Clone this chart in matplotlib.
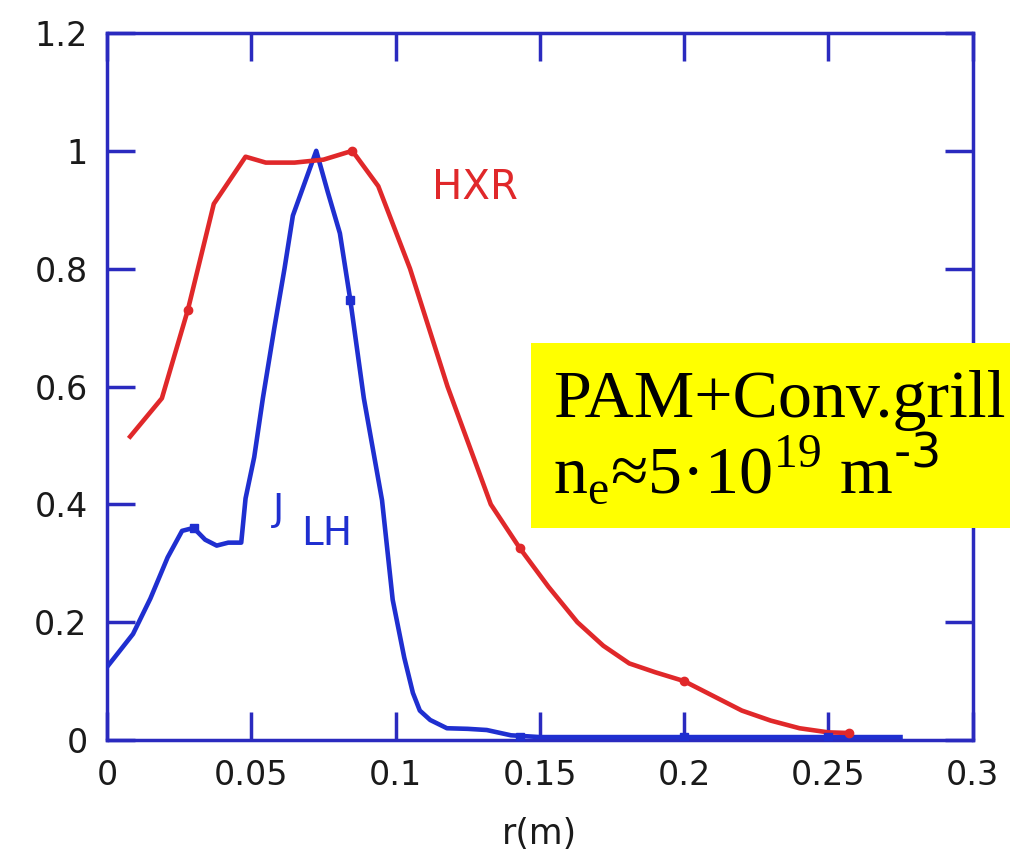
import matplotlib
matplotlib.use('Agg')
import matplotlib.pyplot as plt
from matplotlib.patches import Rectangle


# HXR profile (red)
hxr_r = [0.008, 0.019, 0.028, 0.037, 0.048, 0.055, 0.065, 0.075, 0.085, 0.094,
         0.105, 0.118, 0.133, 0.143, 0.153, 0.163, 0.172, 0.181, 0.190, 0.200,
         0.210, 0.220, 0.230, 0.240, 0.250, 0.257]
hxr_v = [0.515, 0.58, 0.73, 0.91, 0.99, 0.98, 0.98, 0.985, 1.0, 0.94,
         0.80, 0.60, 0.40, 0.326, 0.26, 0.20, 0.16, 0.13, 0.115, 0.10,
         0.075, 0.05, 0.033, 0.02, 0.013, 0.012]
hxr_mark_r = [0.028, 0.085, 0.143, 0.200, 0.257]
hxr_mark_v = [0.73, 1.0, 0.326, 0.10, 0.012]

# J_LH profile (blue)
jlh_r = [0.0, 0.009, 0.015, 0.021, 0.026, 0.030, 0.034, 0.038, 0.042, 0.0465,
         0.048, 0.051, 0.054, 0.058, 0.0615, 0.0644, 0.0725, 0.0765, 0.0807, 0.0843,
         0.089, 0.0953, 0.099, 0.103, 0.106, 0.1084, 0.112, 0.1178, 0.125, 0.1316,
         0.140, 0.150, 0.200, 0.250, 0.275]
jlh_v = [0.124, 0.18, 0.24, 0.31, 0.355, 0.36, 0.34, 0.33, 0.335, 0.335,
         0.41, 0.48, 0.58, 0.70, 0.80, 0.89, 1.0, 0.93, 0.86, 0.747,
         0.58, 0.407, 0.238, 0.14, 0.08, 0.05, 0.034, 0.02, 0.019, 0.017,
         0.008, 0.005, 0.005, 0.005, 0.005]
jlh_mark_r = [0.030, 0.0843, 0.143, 0.200, 0.250]
jlh_mark_v = [0.36, 0.747, 0.005, 0.005, 0.005]

xticks = [0, 0.05, 0.1, 0.15, 0.2, 0.25, 0.3]
xtick_labels = ['0', '0.05', '0.1', '0.15', '0.2', '0.25', '0.3']
yticks = [0, 0.2, 0.4, 0.6, 0.8, 1.0, 1.2]
ytick_labels = ['0', '0.2', '0.4', '0.6', '0.8', '1', '1.2']

RED = '#e0282a'
BLUE = '#1f2fd0'
AXIS = '#2a2abf'

plt.rcParams['font.family'] = ['DejaVu Sans']

fig = plt.figure(figsize=(10.1, 8.61), dpi=100)
ax = fig.add_axes([0.106, 0.1405, 0.857, 0.8212])

ax.plot(jlh_r, jlh_v, color=BLUE, lw=3.3, solid_joinstyle='round', zorder=3)
ax.plot(jlh_mark_r, jlh_mark_v, 's', color=BLUE, ms=6, zorder=4)
ax.plot(hxr_r, hxr_v, color=RED, lw=3.3, solid_joinstyle='round', zorder=3)
ax.plot(hxr_mark_r, hxr_mark_v, 'o', color=RED, ms=6, zorder=4)

ax.set_xlim(0, 0.3)
ax.set_ylim(0, 1.2)
ax.set_xticks(xticks)
ax.set_xticklabels(xtick_labels)
ax.set_yticks(yticks)
ax.set_yticklabels(ytick_labels)
ax.tick_params(direction='in', length=20, width=2.5, color=AXIS,
               top=True, right=True, labelsize=24, pad=14, labelcolor='#1a1a1a')
for s in ax.spines.values():
    s.set_color(AXIS)
    s.set_linewidth(2.5)

ax.set_xlabel('r(m)', fontsize=25, labelpad=18, color='#1a1a1a')

ax.text(0.1125, 0.937, 'HXR', color=RED, fontsize=29, ha='left', va='center')
ax.text(0.0575, 0.39, 'J', color=BLUE, fontsize=27, ha='left', va='center')
ax.text(0.0672, 0.35, 'LH', color=BLUE, fontsize=28, ha='left', va='center')

# yellow annotation box, partly outside the axes
fig.add_artist(Rectangle((0.5257, 0.3868), 0.4743, 0.2149, transform=fig.transFigure,
                         facecolor='#ffff00', edgecolor='none', zorder=10))
fig.text(0.5475, 0.5157, 'PAM+Conv.grill', family='Liberation Serif',
         fontsize=49, va='baseline', ha='left', zorder=11)
fig.text(0.5475, 0.4274, r'n$_\mathregular{e}$≈5·10$^\mathregular{19}$ m$^\text{-3}$',
         family=['Liberation Serif', 'DejaVu Sans'], fontsize=49, va='baseline',
         ha='left', zorder=11)

fig.savefig('out.png', dpi=100)
